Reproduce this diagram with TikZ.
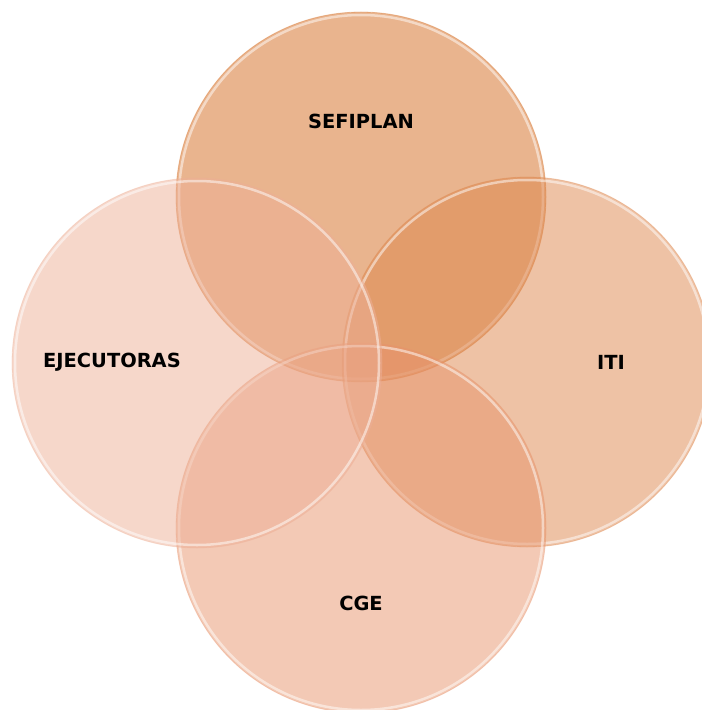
\documentclass[tikz,border=0pt]{standalone}
\usepackage{fontspec}
\setmainfont{DejaVu Sans}
\definecolor{cSef}{RGB}{211,105,29}
\definecolor{cIti}{RGB}{221,133,75}
\definecolor{cCge}{RGB}{231,147,107}
\definecolor{cEje}{RGB}{237,175,150}
\begin{document}
\begin{tikzpicture}[x=1bp,y=-1bp,
  venn/.style={circle, minimum size=370bp, inner sep=0pt, fill=#1, fill opacity=0.5,
     draw=#1, draw opacity=0.35, line width=0.8bp},
  rim/.style={white, line width=2.5bp, draw opacity=0.5},
  lbl/.style={font=\fontsize{19.5}{22}\selectfont\bfseries, text=black}]
\useasboundingbox (0,0) rectangle (702,710);
\begin{scope}
\clip (0,0) rectangle (702,710);
\node[venn=cSef] (sefiplan) at (361,197) {};
\draw[rim] (sefiplan.center) circle (182);
\node[venn=cIti] (iti) at (527,362) {};
\draw[rim] (iti.center) circle (182);
\node[venn=cCge] (cge) at (361,528) {};
\draw[rim] (cge.center) circle (182);
\node[venn=cEje] (ejec) at (197,363) {};
\draw[rim] (ejec.center) circle (182);
\end{scope}
\node[lbl] (tsef) at (361,121) {SEFIPLAN};
\node[lbl] (titi) at (611,362) {ITI};
\node[lbl] (tcge) at (361,603) {CGE};
\node[lbl] (tejec) at (112,362) {EJECUTORAS};
\end{tikzpicture}
\end{document}
